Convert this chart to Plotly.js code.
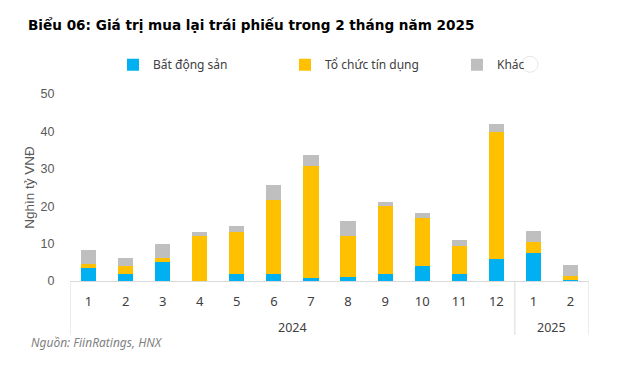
<!DOCTYPE html>
<html>
<head>
<meta charset="utf-8">
<script src="https://cdn.plot.ly/plotly-3.0.1.min.js"></script>
<style>html,body{margin:0;padding:0;background:#fff;}#chart{width:635px;height:369px;}</style>
</head>
<body>
<div id="chart"></div>
<script>
const years = ['2024','2024','2024','2024','2024','2024','2024','2024','2024','2024','2024','2024','2025','2025'];
const months = ['1','2','3','4','5','6','7','8','9','10','11','12','1','2'];
const batDongSan = [3.4, 2.0, 5.0, 0.0, 1.8, 2.0, 0.7, 1.15, 2.0, 4.1, 1.8, 5.8, 7.4, 0.4];
const toChucTinDung = [1.2, 1.9, 1.05, 12.1, 11.4, 19.7, 29.95, 10.95, 18.0, 12.65, 7.5, 34.1, 3.1, 1.0];
const khac = [3.6, 2.15, 3.95, 0.9, 1.6, 3.9, 2.95, 3.85, 1.05, 1.35, 1.6, 2.2, 3.0, 2.8];
const seriesNames = ['Bất động sản', 'Tổ chức tín dụng', 'Khác'];
const seriesColors = ['#00B0F0', '#FFC000', '#BFBFBF'];

// unique category keys (year-month), shown with month tick text
const xKeys = years.map((y, i) => y + '-' + months[i]);
const allValues = [batDongSan, toChucTinDung, khac];
const traces = allValues.map((vals, i) => ({
  type: 'bar',
  name: seriesNames[i],
  x: xKeys,
  y: vals,
  width: 0.41,
  marker: {color: seriesColors[i], line: {width: 0}},
  hoverinfo: 'y+name'
}));

// year groups: boundaries (category index space) and centres
const groups = [];
years.forEach((y, i) => {
  if (!groups.length || groups[groups.length - 1].year !== y) groups.push({year: y, start: i, end: i});
  else groups[groups.length - 1].end = i;
});

const W = 635, H = 369;
const axisPx = {top: 94, bottom: 281};
const pxToPaperY = py => (axisPx.bottom - py) / (axisPx.bottom - axisPx.top);
const plotLeft = 70, plotW = 519;
const pxToPaperX = px => (px - plotLeft) / plotW;

const dividerColor = '#D9D9D9';
const shapes = [];
const boundaries = [groups[0].start - 0.5].concat(groups.map(g => g.end + 0.5));
boundaries.forEach(b => shapes.push({
  type: 'line', xref: 'x', yref: 'paper',
  x0: b, x1: b, y0: 0, y1: pxToPaperY(335),
  line: {color: dividerColor, width: 1}
}));
shapes.push({
  type: 'circle', xref: 'paper', yref: 'paper',
  x0: pxToPaperX(522), x1: pxToPaperX(538),
  y0: pxToPaperY(72.3), y1: pxToPaperY(56.3),
  line: {color: '#E6E6E6', width: 1}, fillcolor: '#ffffff'
});

const annotations = groups.map(g => ({
  text: g.year, xref: 'x', yref: 'paper',
  x: (g.start + g.end) / 2, xanchor: 'center',
  y: pxToPaperY(327), yanchor: 'middle',
  showarrow: false,
  font: {family: 'Noto Sans, Open Sans, sans-serif', size: 12.5, color: '#404040'}
}));
annotations.push({
  text: 'Nguồn: FiinRatings, HNX',
  xref: 'paper', yref: 'paper',
  x: pxToPaperX(29), xanchor: 'left',
  y: pxToPaperY(342.7), yanchor: 'middle',
  showarrow: false,
  font: {family: 'Noto Sans, Open Sans, sans-serif', size: 12, color: '#7F7F7F', style: 'italic'}
});

const layout = {
  width: W,
  height: H,
  margin: {l: 70, r: 46, t: 94, b: 88},
  paper_bgcolor: '#ffffff',
  plot_bgcolor: '#ffffff',
  barmode: 'stack',
  font: {family: 'Liberation Sans, Arial, sans-serif', color: '#404040'},
  title: {
    text: 'Biểu 06: Giá trị mua lại trái phiếu trong 2 tháng năm 2025',
    x: 28/W, xanchor: 'left',
    y: 1 - 25.7/H, yanchor: 'middle',
    font: {family: 'DejaVu Sans, Open Sans, sans-serif', size: 13.6, color: '#000000', weight: 'bold'}
  },
  showlegend: true,
  legend: {
    orientation: 'h',
    xref: 'container', yref: 'container',
    x: 113/W, xanchor: 'left',
    y: 1 - 64.7/H, yanchor: 'middle',
    entrywidth: 127, entrywidthmode: 'pixels',
    itemwidth: 30,
    font: {family: 'Noto Sans, Open Sans, sans-serif', size: 12, color: '#404040'},
    bgcolor: 'rgba(0,0,0,0)', borderwidth: 0,
    traceorder: 'normal'
  },
  xaxis: {
    type: 'category',
    categoryorder: 'array', categoryarray: xKeys,
    tickvals: xKeys, ticktext: months,
    range: [-0.5, xKeys.length - 0.5],
    showline: true, linecolor: dividerColor, linewidth: 1,
    showgrid: false, zeroline: false,
    ticks: 'outside', ticklen: 8, tickcolor: 'rgba(0,0,0,0)',
    tickfont: {family: 'Noto Sans, Open Sans, sans-serif', size: 13, color: '#404040'},
    fixedrange: true
  },
  yaxis: {
    range: [0, 50],
    tickvals: [0, 10, 20, 30, 40, 50],
    showgrid: false, zeroline: false, showline: false,
    ticks: 'outside', ticklen: 12, tickcolor: 'rgba(0,0,0,0)',
    tickfont: {family: 'Liberation Sans, Arial, sans-serif', size: 12.5, color: '#595959'},
    title: {text: 'Nghìn tỷ VNĐ', standoff: 2, font: {family: 'Liberation Sans, Arial, sans-serif', size: 13.5, color: '#595959'}},
    fixedrange: true
  },
  shapes: shapes,
  annotations: annotations
};

Plotly.newPlot('chart', traces, layout, {displayModeBar: false, staticPlot: true});
</script>
</body>
</html>
